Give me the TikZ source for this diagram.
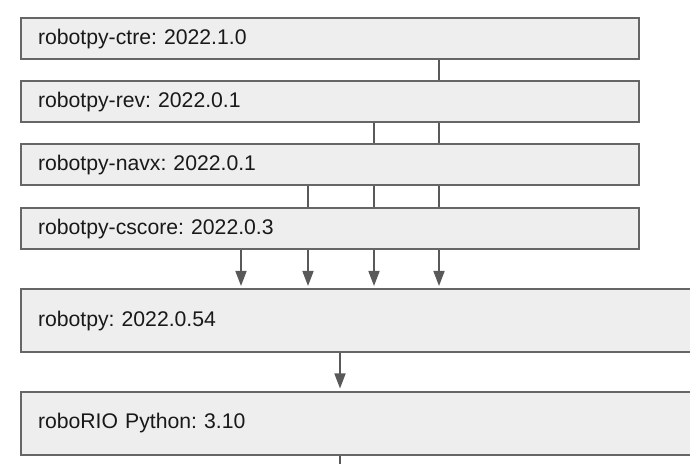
\documentclass[tikz,border=0pt]{standalone}
\usepackage{fontspec}
\setmainfont{Liberation Sans}
\frenchspacing
\usetikzlibrary{arrows.meta}
\definecolor{boxfill}{HTML}{EEEEEE}
\definecolor{boxline}{HTML}{666666}
\definecolor{depline}{HTML}{595959}
\tikzset{
  pkg/.style={draw=boxline, fill=boxfill, line width=1pt, anchor=north west,
    inner xsep=8.5pt, inner ysep=0pt, text width=292pt, align=left,
    minimum height=20.75pt, text=black!90, font=\fontsize{10.6}{12}\selectfont},
  bigpkg/.style={pkg, text width=323pt, minimum height=31.75pt},
  dep/.style={draw=depline, line width=0.8pt},
  deparrow/.style={dep, -{Triangle[length=7.5pt,width=5.5pt]}},
}
\begin{document}
\begin{tikzpicture}[x=0.5pt,y=-0.5pt]
                \useasboundingbox (0,0) rectangle (690,464);
                \node[pkg] (ctre) at (20,17) {robotpy-ctre: 2022.1.0};
                \node[pkg] (rev) at (20,80) {robotpy-rev: 2022.0.1};
                \node[pkg] (navx) at (20,143) {robotpy-navx: 2022.0.1};
                \node[pkg] (cscore) at (20,207) {robotpy-cscore: 2022.0.3};
                \node[bigpkg] (robotpy) at (20,288) {robotpy: 2022.0.54};
                \node[bigpkg] (roborio) at (20,390.5) {roboRIO Python: 3.10};
                \coordinate (bottom) at (340,464);
                \draw[dep] (ctre.south -| 439,0) -- (rev.north -| 439,0);
                \foreach \x in {374,439}
                  \draw[dep] (rev.south -| \x,0) -- (navx.north -| \x,0);
                \foreach \x in {308,374,439}
                  \draw[dep] (navx.south -| \x,0) -- (cscore.north -| \x,0);
                \foreach \x in {241,308,374,439}
                  \draw[deparrow] (cscore.south -| \x,0) -- ([yshift=1pt]robotpy.north -| \x,0);
                \draw[deparrow] (robotpy.south -| 340,0) -- ([yshift=1pt]roborio.north -| 340,0);
                \draw[dep] (roborio.south -| bottom) -- (bottom);
\end{tikzpicture}
\end{document}
